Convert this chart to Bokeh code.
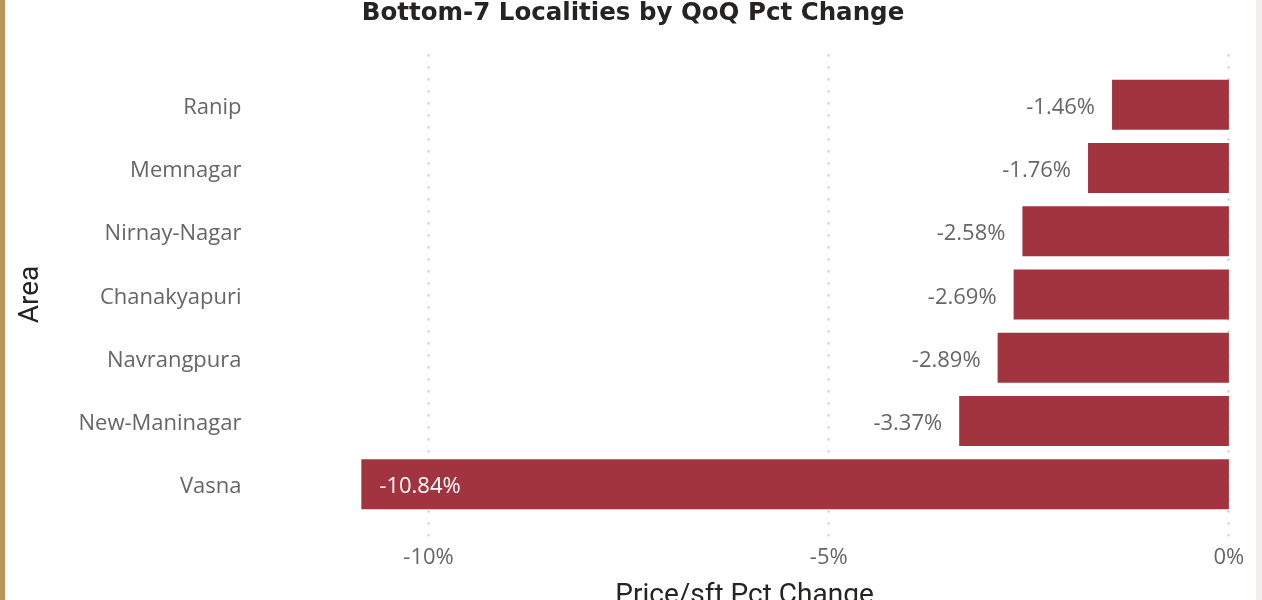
from bokeh.plotting import figure
from bokeh.layouts import column
from bokeh.models import ColumnDataSource, FactorRange, Range1d, FixedTicker, PrintfTickFormatter, Div
from bokeh.core.properties import value
from bokeh.embed import file_html
from bokeh.resources import INLINE

# ---- data ----
areas = ["Ranip", "Memnagar", "Nirnay-Nagar", "Chanakyapuri", "Navrangpura", "New-Maninagar", "Vasna"]
pct_change = [-1.46, -1.76, -2.58, -2.69, -2.89, -3.37, -10.84]
x_ticks = [-10, -5, 0]
title_text = "Bottom-7 Localities by QoQ Pct Change"
x_title = "Price/sft Pct Change"
y_title = "Area"

BAR = "#A1343F"
GREY = "#666666"
DARK = "#252423"

labels = [f"{v:.2f}%" for v in pct_change]
inside = [v < -5 for v in pct_change]

src_all = ColumnDataSource(dict(area=areas, pct=pct_change))
src_out = ColumnDataSource(dict(area=[a for a, i in zip(areas, inside) if not i],
                                pct=[v for v, i in zip(pct_change, inside) if not i],
                                lab=[l for l, i in zip(labels, inside) if not i]))
src_in = ColumnDataSource(dict(area=[a for a, i in zip(areas, inside) if i],
                               pct=[v for v, i in zip(pct_change, inside) if i],
                               lab=[l for l, i in zip(labels, inside) if i]))

# title, partly cut by the top edge as in the original
title = Div(text=title_text, width=1256, height=24, styles={
    "position": "relative", "top": "-5px",
    "text-align": "center", "font-family": "'DejaVu Sans'", "font-weight": "bold",
    "font-size": "24.5px", "line-height": "24px", "color": DARK, "white-space": "nowrap",
})

# the figure runs a little below the window so that the x-axis title is cut
# at the bottom edge, as in the original picture
p = figure(
    width=1262, height=578, title=None,
    y_range=FactorRange(factors=list(reversed(areas)), range_padding=0.093),
    x_range=Range1d(-12.125, 0.02),
    output_backend="svg", toolbar_location=None,
    min_border_left=258, min_border_right=32, min_border_top=18, min_border_bottom=76,
)
p.border_fill_alpha = 0
p.background_fill_color = "#ffffff"
p.outline_line_color = None

p.hbar(y="area", right="pct", left=0, height=0.79, source=src_all, color=BAR, line_color=None)

p.text(x="pct", y="area", text="lab", source=src_out, text_align="right", text_baseline="middle",
       x_offset=-17, text_color=GREY, text_font=value("Open Sans"), text_font_size=value("22px"))
p.text(x="pct", y="area", text="lab", source=src_in, text_align="left", text_baseline="middle",
       x_offset=18, text_color="#ffffff", text_font=value("Open Sans"), text_font_size=value("22px"))

# grid
p.ygrid.grid_line_color = None
p.xgrid.ticker = FixedTicker(ticks=x_ticks)
p.xgrid.grid_line_color = "#c8c6c4"
p.xgrid.grid_line_width = 2
p.xgrid.grid_line_dash = "2 10"

# x axis
p.xaxis.ticker = FixedTicker(ticks=x_ticks)
p.xaxis.formatter = PrintfTickFormatter(format="%d%%")
p.xaxis.axis_line_color = None
p.xaxis.major_tick_line_color = None
p.xaxis.minor_tick_line_color = None
p.xaxis.major_tick_out = 0
p.xaxis.minor_tick_out = 0
p.xaxis.major_label_standoff = 3
p.xaxis.major_label_text_font = "Open Sans"
p.xaxis.major_label_text_font_size = "22px"
p.xaxis.major_label_text_color = GREY
p.xaxis.axis_label = x_title
p.xaxis.axis_label_standoff = 4
p.xaxis.axis_label_text_font = "Roboto"
p.xaxis.axis_label_text_font_style = "normal"
p.xaxis.axis_label_text_font_size = "28px"
p.xaxis.axis_label_text_color = DARK

# y axis
p.yaxis.axis_line_color = None
p.yaxis.major_tick_line_color = None
p.yaxis.minor_tick_line_color = None
p.yaxis.major_tick_out = 0
p.yaxis.minor_tick_out = 0
p.yaxis.major_label_standoff = 17
p.yaxis.major_label_text_font = "Open Sans"
p.yaxis.major_label_text_font_size = "22px"
p.yaxis.major_label_text_color = GREY
p.yaxis.axis_label = y_title
p.yaxis.axis_label_standoff = 31
p.yaxis.axis_label_text_font = "Roboto"
p.yaxis.axis_label_text_font_style = "normal"
p.yaxis.axis_label_text_font_size = "28px"
p.yaxis.axis_label_text_color = DARK

layout = column(title, p, spacing=0, styles={
    "position": "fixed", "left": "0px", "top": "0px",
    "background": "linear-gradient(to right, #b8955a 0px, #b8955a 5px, #ffffff 5px, #ffffff 1256px, #f1f0ed 1256px)",
})

open("out.html", "w").write(file_html(layout, INLINE))
